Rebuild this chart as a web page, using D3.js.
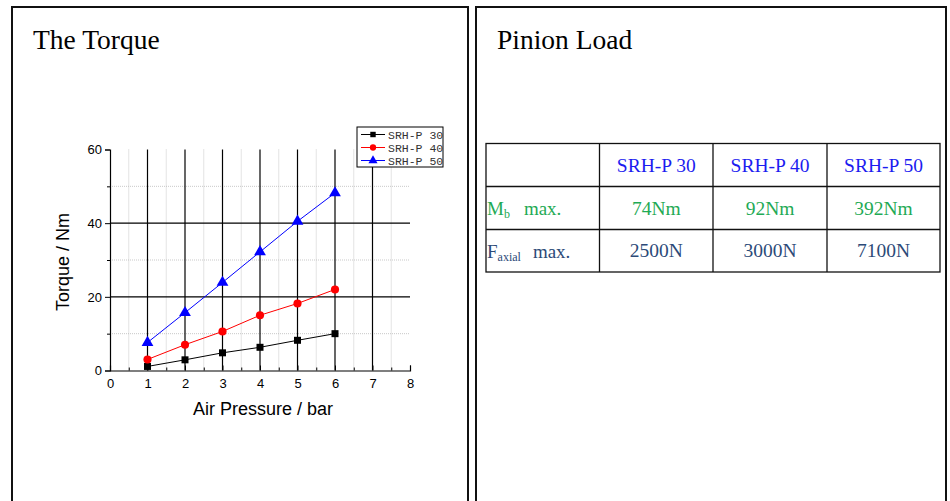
<!DOCTYPE html>
<html><head><meta charset="utf-8">
<script src="https://cdn.jsdelivr.net/npm/d3@7"></script>
<style>
body{margin:0;background:#fff;}
svg{display:block;}
</style></head>
<body>
<svg id="c" width="950" height="501"></svg>
<script>
const pressures = [1, 2, 3, 4, 5, 6];
const srh30 = [1.1, 2.9, 4.8, 6.3, 8.2, 10.0];
const srh40 = [3.0, 7.0, 10.6, 15.0, 18.2, 22.0];
const srh50 = [7.6, 15.7, 23.9, 32.2, 40.5, 48.2];
const seriesNames = ["SRH-P 30", "SRH-P 40", "SRH-P 50"];
const xTicks = [0, 1, 2, 3, 4, 5, 6, 7, 8];
const yTicks = [0, 20, 40, 60];
const tableHeaders = ["SRH-P 30", "SRH-P 40", "SRH-P 50"];
const mbValues = ["74Nm", "92Nm", "392Nm"];
const faxialValues = ["2500N", "3000N", "7100N"];

const svg = d3.select("#c");

// panels
svg.append("path").attr("d","M12,520 V7 H468 V520").attr("fill","none").attr("stroke","#111").attr("stroke-width",2);
svg.append("path").attr("d","M476,520 V7 H946 V520").attr("fill","none").attr("stroke","#111").attr("stroke-width",2);

svg.append("text").attr("x",33).attr("y",49).attr("font-family","Liberation Serif, serif").attr("font-size",27.5).attr("fill","#000").text("The Torque");
svg.append("text").attr("x",497).attr("y",49).attr("font-family","Liberation Serif, serif").attr("font-size",27.5).attr("fill","#000").text("Pinion Load");

// chart
const x = d3.scaleLinear().domain([0,8]).range([110,410]);
const y = d3.scaleLinear().domain([0,60]).range([370.5,149.5]);
const g = svg.append("g");

// minor grid
const minorX = d3.range(0.5, 8, 1);
const minorY = [10,30,50];
g.selectAll(".mx").data(minorX).enter().append("line")
  .attr("x1",d=>x(d)).attr("x2",d=>x(d)).attr("y1",y(60)).attr("y2",y(0))
  .attr("stroke","#bbb").attr("stroke-width",0.8).attr("stroke-dasharray","1,1");
g.selectAll(".my").data(minorY).enter().append("line")
  .attr("x1",x(0)).attr("x2",x(8)).attr("y1",d=>y(d)).attr("y2",d=>y(d))
  .attr("stroke","#bbb").attr("stroke-width",0.8).attr("stroke-dasharray","1,1");
// major grid
g.selectAll(".gx").data([1,2,3,4,5,6,7]).enter().append("line")
  .attr("x1",d=>x(d)).attr("x2",d=>x(d)).attr("y1",y(60)).attr("y2",y(0))
  .attr("stroke","#000").attr("stroke-width",1.2);
g.selectAll(".gy").data([20,40]).enter().append("line")
  .attr("x1",x(0)).attr("x2",x(8)).attr("y1",d=>y(d)).attr("y2",d=>y(d))
  .attr("stroke","#000").attr("stroke-width",1.2);

// axes
const xAxis = d3.axisBottom(x).tickValues(xTicks).tickSize(-5).tickPadding(8).tickFormat(d3.format("d"));
const gx = g.append("g").attr("transform",`translate(0,${y(0)})`).call(xAxis);
gx.select(".domain").attr("stroke","#000").attr("stroke-width",1.2);
gx.selectAll(".tick line").attr("stroke","#000");
gx.selectAll("text").attr("font-family","Liberation Sans, Arial, sans-serif").attr("font-size",13).attr("fill","#000");
const xMinor = d3.axisBottom(x).tickValues(minorX).tickSize(-3).tickFormat("");
const gxm = g.append("g").attr("transform",`translate(0,${y(0)})`).call(xMinor);
gxm.select(".domain").remove();

const yAxis = d3.axisLeft(y).tickValues(yTicks).tickSize(5).tickPadding(3).tickFormat(d3.format("d"));
const gy = g.append("g").attr("transform",`translate(${x(0)},0)`).call(yAxis);
gy.select(".domain").attr("stroke","#000").attr("stroke-width",1.2);
gy.selectAll(".tick line").attr("stroke","#000");
gy.selectAll("text").attr("font-family","Liberation Sans, Arial, sans-serif").attr("font-size",13).attr("fill","#000");
const yMinor = d3.axisLeft(y).tickValues(minorY).tickSize(3).tickFormat("");
const gym = g.append("g").attr("transform",`translate(${x(0)},0)`).call(yMinor);
gym.select(".domain").remove();

g.append("text").attr("x",263).attr("y",415).attr("text-anchor","middle")
  .attr("font-family","Liberation Sans, Arial, sans-serif").attr("font-size",18).text("Air Pressure / bar");
g.append("text").attr("transform","translate(69,262) rotate(-90)").attr("text-anchor","middle")
  .attr("font-family","Liberation Sans, Arial, sans-serif").attr("font-size",18).text("Torque / Nm");

const series = [
  {name: seriesNames[0], vals: srh30, color:"#000", shape: d3.symbolSquare, size:49},
  {name: seriesNames[1], vals: srh40, color:"#ff0000", shape: d3.symbolCircle, size:52},
  {name: seriesNames[2], vals: srh50, color:"#0000ff", shape: d3.symbolTriangle, size:60}
];
const line = d3.line().x((d,i)=>x(pressures[i])).y(d=>y(d));
series.forEach(s=>{
  g.append("path").datum(s.vals).attr("d",line).attr("fill","none").attr("stroke",s.color).attr("stroke-width",1);
  g.selectAll(null).data(s.vals).enter().append("path")
    .attr("d",d3.symbol().type(s.shape).size(s.size))
    .attr("transform",(d,i)=>`translate(${x(pressures[i])},${y(d)})`)
    .attr("fill",s.color);
});

// legend
const lg = svg.append("g");
lg.append("rect").attr("x",357).attr("y",127).attr("width",86).attr("height",40).attr("fill","#fff").attr("stroke","#000").attr("stroke-width",1);
series.forEach((s,i)=>{
  const yy = 134.5 + i*13;
  lg.append("line").attr("x1",361).attr("x2",385).attr("y1",yy).attr("y2",yy).attr("stroke",s.color).attr("stroke-width",1);
  lg.append("path").attr("d",d3.symbol().type(s.shape).size(s.size*0.6)).attr("transform",`translate(373,${yy})`).attr("fill",s.color);
  lg.append("text").attr("x",388).attr("y",yy+4).attr("font-family","Liberation Mono, monospace").attr("font-size",11.5).attr("fill","#333").text(s.name);
});

// table
const colX = [486, 599.5, 713, 827, 940];
const rowY = [143.5, 186.5, 229.5, 272];
const tg = svg.append("g");
tg.append("rect").attr("x",colX[0]).attr("y",rowY[0]).attr("width",colX[4]-colX[0]).attr("height",rowY[3]-rowY[0]).attr("fill","none").attr("stroke","#111").attr("stroke-width",1.3);
colX.slice(1,4).forEach(cx=>tg.append("line").attr("x1",cx).attr("x2",cx).attr("y1",rowY[0]).attr("y2",rowY[3]).attr("stroke","#111").attr("stroke-width",1.3));
rowY.slice(1,3).forEach(ry=>tg.append("line").attr("x1",colX[0]).attr("x2",colX[4]).attr("y1",ry).attr("y2",ry).attr("stroke","#111").attr("stroke-width",1.3));
const font = "Liberation Serif, Times New Roman, serif";
const cell = (i, r, txt, color)=>tg.append("text").attr("x",(colX[i+1]+colX[i+2])/2).attr("y",(rowY[r]+rowY[r+1])/2+6.5)
  .attr("text-anchor","middle").attr("font-family",font).attr("font-size",19.5).attr("fill",color).text(txt);
tableHeaders.forEach((t,i)=>cell(i,0,t,"#1c1cf0"));
mbValues.forEach((t,i)=>cell(i,1,t,"#1faa55"));
faxialValues.forEach((t,i)=>cell(i,2,t,"#2c4a78"));
const mb = tg.append("text").attr("x",487).attr("y",214.5).attr("font-family",font).attr("font-size",19).attr("fill","#1faa55");
mb.append("tspan").text("M");
mb.append("tspan").attr("font-size",12).attr("dy",3).text("b");
mb.append("tspan").attr("dy",-3).attr("dx",14).text("max.");
const fa = tg.append("text").attr("x",487).attr("y",257.5).attr("font-family",font).attr("font-size",19).attr("fill","#2c4a78");
fa.append("tspan").text("F");
fa.append("tspan").attr("font-size",12).attr("dy",3).text("axial");
fa.append("tspan").attr("dy",-3).attr("dx",12).text("max.");
</script>
</body></html>
